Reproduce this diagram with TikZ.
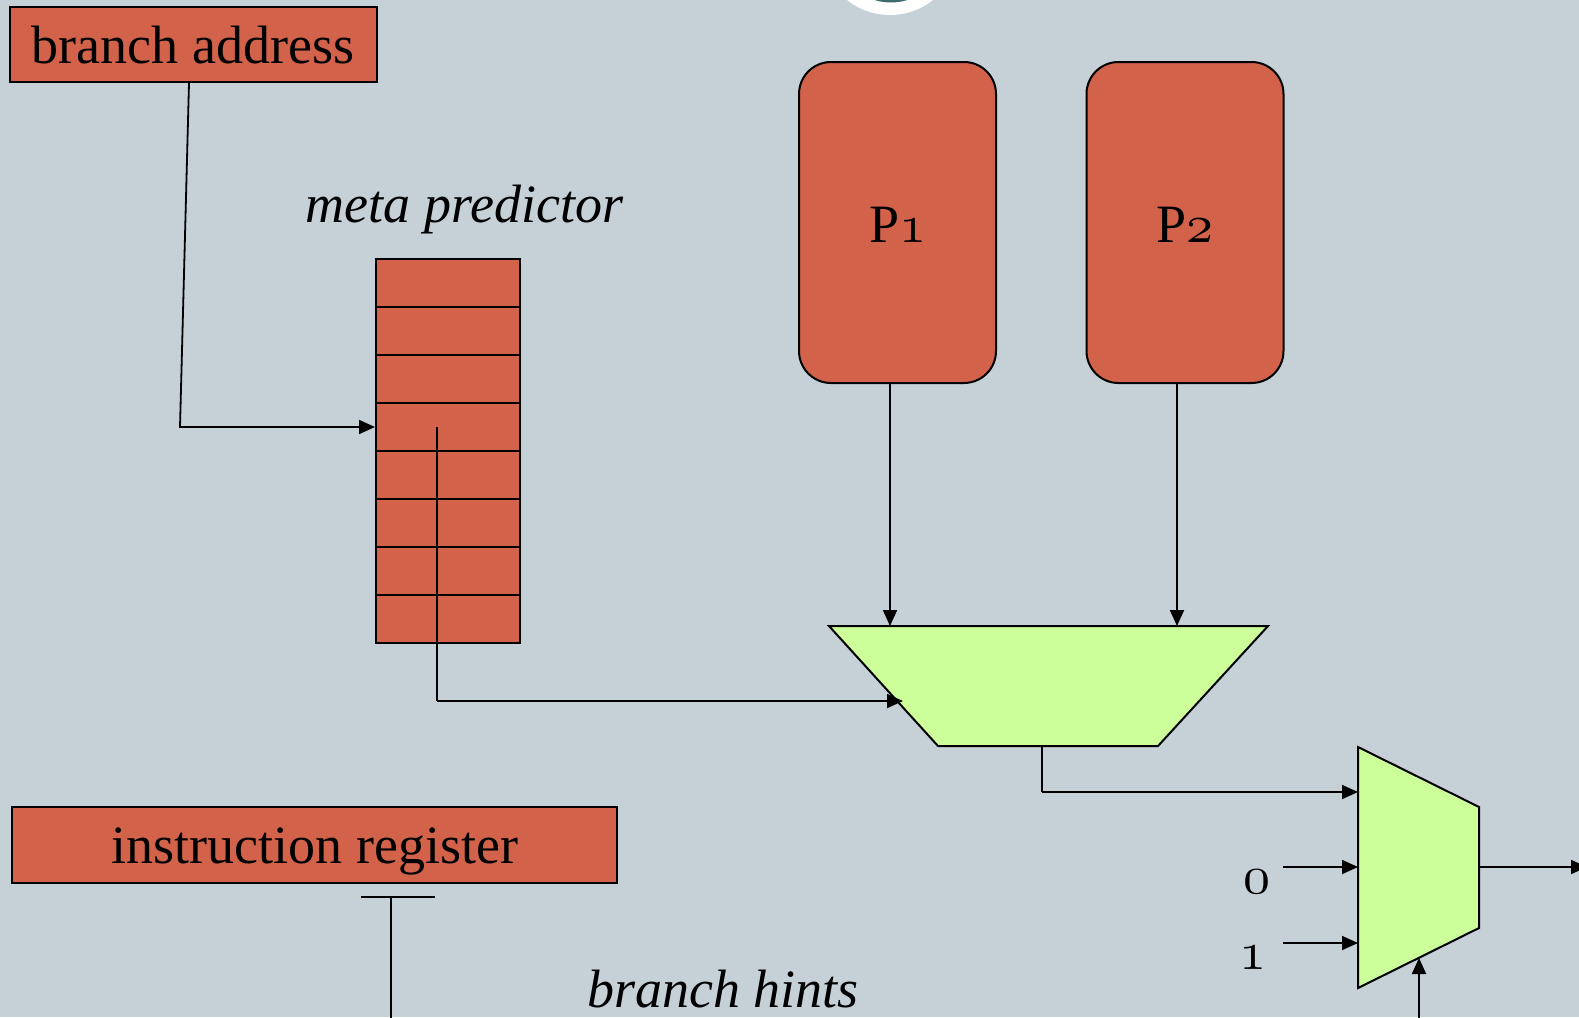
\documentclass[tikz,border=0pt]{standalone}
\usepackage{fontspec}
\usepackage{graphicx}
\setmainfont{Liberation Serif}
\usetikzlibrary{arrows.meta}
% old-style figures taken from the Computer Modern math italic font
\newcommand{\osfig}[1]{\scalebox{5.4}{\fontsize{10}{12}\usefont{OML}{cmm}{m}{it}#1}}
\definecolor{bgblue}{HTML}{C5D1D7}
\definecolor{brick}{HTML}{D2634A}
\definecolor{lime}{HTML}{CCFF99}
\definecolor{tealdark}{HTML}{3D6B6B}
\begin{document}
\begin{tikzpicture}[x=1pt,y=-1pt,
  wire/.style={line width=1.8pt},
  arr/.style={wire,-{Triangle[length=16pt,width=14pt]}},
  regbox/.style={draw=black,line width=2pt,fill=brick,inner sep=0pt},
  cell/.style={regbox,minimum width=144pt,minimum height=48pt},
  predbox/.style={regbox,rounded corners=32pt,minimum width=197pt,minimum height=321pt},
  muxshape/.style={draw=black,line width=2pt,fill=lime,line join=miter},
  lbl/.style={font=\fontsize{54}{60}\selectfont,inner sep=0pt,anchor=base},
  ilbl/.style={lbl,font=\fontsize{54}{60}\selectfont\itshape}]

% page and background
\useasboundingbox (0,0) rectangle (1579,1017);
\fill[bgblue] (0,0) rectangle (1579,1017);

% logo ring at the top edge
\fill[white] (890,-54) circle[radius=69];
\fill[tealdark] (891,-54) circle[radius=56.5];

% branch address register
\node[regbox,minimum width=367pt,minimum height=75pt] (ba) at (193.5,44.5) {};
\node[lbl] (balbl) at (193,63) {branch address};

% meta predictor table
\node[ilbl] (mplbl) at (464.5,222) {meta predictor};
\foreach \i in {1,...,8}{
  \node[cell] (mp\i) at (448,{283+48*(\i-1)}) {};
}

% component predictors
\node[predbox] (p1) at (897.5,222.5) {};
\node[lbl] (p1lbl) at (898,242) {P\osfig{1}};
\node[predbox] (p2) at (1185,222.5) {};
\node[lbl] (p2lbl) at (1185,242) {P\osfig{2}};

% first multiplexer
\coordinate (m1tl) at (829,626);
\coordinate (m1tr) at (1268,626);
\coordinate (m1br) at (1158,746);
\coordinate (m1bl) at (938,746);
\filldraw[muxshape] (m1tl) -- (m1tr) -- (m1br) -- (m1bl) -- cycle;
\coordinate (m1in1) at (890,626);
\coordinate (m1in2) at (1177,626);
\coordinate (m1sel) at (903,701);
\coordinate (m1out) at (1042,746);

% second multiplexer
\coordinate (m2tl) at (1358,747);
\coordinate (m2tr) at (1479,807);
\coordinate (m2br) at (1479,928);
\coordinate (m2bl) at (1358,988);
\filldraw[muxshape] (m2tl) -- (m2tr) -- (m2br) -- (m2bl) -- cycle;
\coordinate (m2a) at (1358,792);
\coordinate (m2b) at (1358,867);
\coordinate (m2c) at (1358,943);
\coordinate (m2out) at (1479,867);
\coordinate (m2sel) at (1419,958);

% instruction register
\node[regbox,minimum width=605pt,minimum height=76pt] (ir) at (314.5,845) {};
\node[lbl] (irlbl) at (315,863) {instruction register};
\node[ilbl] (bhlbl) at (723,1007) {branch hints};

% constant inputs
\node[lbl] (zero) at (1257,893) {\osfig{0}};
\node[lbl] (one) at (1253,969) {\osfig{1}};
\coordinate (c0) at (1283,867);
\coordinate (c1) at (1283,943);

% free ends of connectors
\coordinate (babend) at (180,427);
\coordinate (mpdown) at (437,427);
\coordinate (mpbend) at (437,701);
\coordinate (m1bend) at (1042,792);
\coordinate (outend) at (1587,867);
\coordinate (selsrc) at (1419,1030);
\coordinate (irtl) at (361,897);
\coordinate (irtr) at (435,897);
\coordinate (irtop) at (391,897);
\coordinate (irbot) at (391,1030);

% connectors
\draw[arr] ([xshift=-4.5pt]ba.south) -- (babend) -- (mp4.west);
\draw[wire] (mpdown) -- (mpbend);
\draw[arr] (mpbend) -- (m1sel);
\draw[arr] ([xshift=-7.5pt]p1.south) -- (m1in1);
\draw[arr] ([xshift=-8pt]p2.south) -- (m1in2);
\draw[wire] (m1out) -- (m1bend);
\draw[arr] (m1bend) -- (m2a);
\draw[arr] (c0) -- (m2b);
\draw[arr] (c1) -- (m2c);
\draw[arr] (m2out) -- (outend);
\draw[arr] (selsrc) -- (m2sel);
\draw[wire] (irtl) -- (irtr);
\draw[wire] (irtop) -- (irbot);
\end{tikzpicture}
\end{document}
